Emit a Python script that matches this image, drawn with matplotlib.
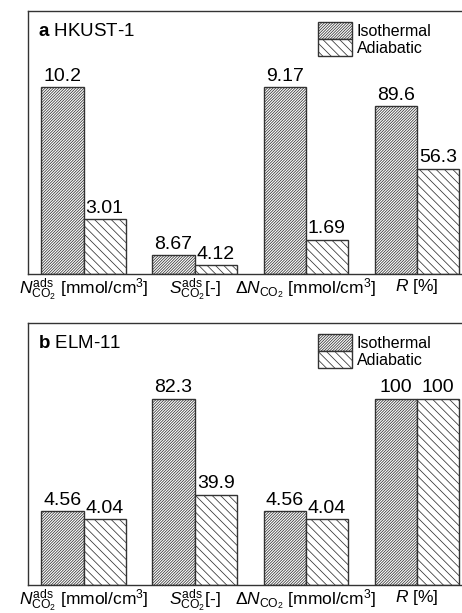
import matplotlib
matplotlib.use('Agg')
import matplotlib.pyplot as plt
import numpy as np
from matplotlib.patches import Patch

plt.rcParams['font.family'] = ['Liberation Sans', 'DejaVu Sans']
plt.rcParams['mathtext.fontset'] = 'custom'
plt.rcParams['mathtext.rm'] = 'Liberation Sans'
plt.rcParams['mathtext.it'] = 'Liberation Sans:italic'
plt.rcParams['mathtext.bf'] = 'Liberation Sans:bold'
plt.rcParams['hatch.linewidth'] = 0.55
plt.rcParams['hatch.color'] = '#333333'

# group labels on the x axis
categories = [
    r'$N^{\mathrm{ads}}_{\mathrm{CO_2}}$ [mmol/cm$^3$]',
    r'$S^{\mathrm{ads}}_{\mathrm{CO_2}}$[-]',
    r'$\Delta N_{\mathrm{CO_2}}$ [mmol/cm$^3$]',
    r'$R$ [%]',
]

# HKUST-1
a_iso = [10.2, 8.67, 9.17, 89.6]
a_adi = [3.01, 4.12, 1.69, 56.3]
a_scale = [10.2, 85.0, 9.17, 100.0]   # each group has its own full-scale value

# ELM-11
b_iso = [4.56, 82.3, 4.56, 100]
b_adi = [4.04, 39.9, 4.04, 100]
b_scale = [11.5, 82.3, 11.5, 100.0]

panels = [('a', 'HKUST-1', a_iso, a_adi, a_scale),
          ('b', 'ELM-11', b_iso, b_adi, b_scale)]

fig = plt.figure(figsize=(4.62, 6.13), dpi=100)
axes_pos = [[0.0606, 0.553, 0.95, 0.429],
            [0.0606, 0.0457, 0.95, 0.4274]]

x = np.arange(len(categories))
w = 0.38
edge = '#333333'
h_iso = '////////////'
h_adi = '\\\\\\\\'

for pos, (letter, name, iso, adi, scale) in zip(axes_pos, panels):
    ax = fig.add_axes(pos)
    iso_n = np.array(iso) / np.array(scale)
    adi_n = np.array(adi) / np.array(scale)
    b1 = ax.bar(x - w / 2, iso_n, w, facecolor='white', edgecolor=edge,
                hatch=h_iso, linewidth=1.0)
    b2 = ax.bar(x + w / 2, adi_n, w, facecolor='white', edgecolor=edge,
                hatch=h_adi, linewidth=1.0)
    for rects, vals in ((b1, iso), (b2, adi)):
        for r, v in zip(rects, vals):
            ax.text(r.get_x() + r.get_width() / 2, r.get_height() + 0.012,
                    f'{v:g}', ha='center', va='bottom', fontsize=14)

    ax.set_xlim(-0.5, 3.45)
    ax.set_ylim(0, 1.405)
    ax.set_xticks(x)
    ax.set_xticklabels(categories, fontsize=12.5)
    ax.tick_params(axis='x', length=0, pad=2)
    ax.set_yticks([])
    ax.spines['right'].set_visible(False)
    for s in ('left', 'top', 'bottom'):
        ax.spines[s].set_linewidth(1.0)
        ax.spines[s].set_color(edge)

    ax.text(0.023, 0.955, rf'$\mathbf{{{letter}}}$ {name}', transform=ax.transAxes,
            ha='left', va='top', fontsize=13.5)

    handles = [Patch(facecolor='white', edgecolor=edge, hatch=h_iso, label='Isothermal'),
               Patch(facecolor='white', edgecolor=edge, hatch=h_adi, label='Adiabatic')]
    ax.legend(handles=handles, loc='upper right', bbox_to_anchor=(0.945, 1.0),
              frameon=False, fontsize=11.5, handlelength=2.1, handleheight=1.25,
              handletextpad=0.3, labelspacing=0.0, borderaxespad=0.3)

fig.savefig('out.png', dpi=100)
